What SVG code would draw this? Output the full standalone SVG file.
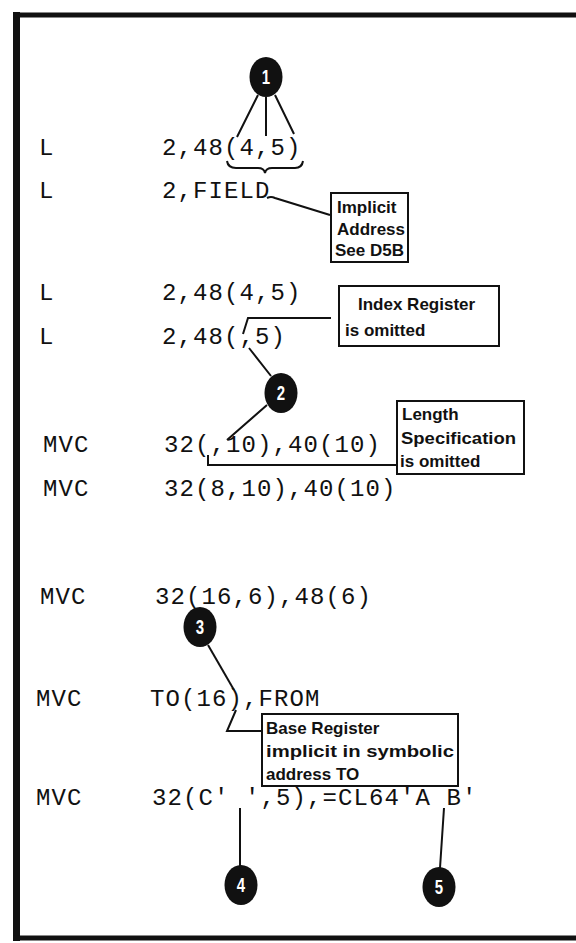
<svg xmlns="http://www.w3.org/2000/svg" width="576" height="943" viewBox="0 0 576 943">
<style>
.code{font-family:"Liberation Mono","Courier New",monospace;font-size:24px;letter-spacing:1.1px;fill:#111}
.note{font-family:"Liberation Sans",Arial,sans-serif;font-size:17px;font-weight:bold;fill:#111}
.box{fill:#fff;stroke:#111;stroke-width:2}
.conn{fill:none;stroke:#111;stroke-width:2}
.dot{fill:#111}
.num{font-family:"Liberation Sans",Arial,sans-serif;font-size:20px;font-weight:bold;fill:#fff;text-anchor:middle}
</style>
<rect width="576" height="943" fill="#fff"/>
<g id="frame" fill="none" stroke="#111">
<path d="M16.5,12 V941" stroke-width="7"/>
<path d="M13,15 H576" stroke-width="5"/>
<path d="M13,938 H576" stroke-width="5"/>
</g>
<g id="code">
<text class="code" x="39" y="155">L</text><text class="code" x="162" y="155">2,48(4,5)</text>
<text class="code" x="39" y="198">L</text><text class="code" x="162" y="198">2,FIELD</text>
<text class="code" x="39" y="300">L</text><text class="code" x="162" y="300">2,48(4,5)</text>
<text class="code" x="39" y="344">L</text><text class="code" x="162" y="344">2,48(,5)</text>
<text class="code" x="43" y="452">MVC</text><text class="code" x="164" y="452">32(,10),40(10)</text>
<text class="code" x="43" y="496">MVC</text><text class="code" x="164" y="496">32(8,10),40(10)</text>
<text class="code" x="40" y="604">MVC</text><text class="code" x="155" y="604">32(16,6),48(6)</text>
<text class="code" x="36" y="706">MVC</text><text class="code" x="150" y="706">TO(16),FROM</text>
<text class="code" x="36" y="805">MVC</text><text class="code" x="152" y="805">32(C' ',5),=CL64'A B'</text>
</g>
<g id="connectors" class="conn">
<path d="M227,161 Q228,168 236,168 L258,168 Q264,168 265,173 Q266,168 272,168 L295,168 Q302,168 303,161"/>
<path d="M258,95 L237,137 M266,97 L266,136 M275,95 L294,134"/>
<path d="M267,198 Q271,196 275,198 L330,215"/>
<path d="M243,334 L248,318 L331,318"/>
<path d="M249,348 L271,376 M267,405 L227,440"/>
<path d="M208,455 V465 H397"/>
<path d="M208,645 L234,690"/>
<path d="M236,710 L227,731 H262"/>
<path d="M240,808 V866 M444,808 L440,868"/>
</g>
<g id="c1"><ellipse class="dot" cx="266" cy="77" rx="16.5" ry="20"/><text class="num" transform="translate(266,84) scale(0.75,1)">1</text></g>
<g id="c2"><ellipse class="dot" cx="281" cy="393" rx="16.5" ry="20"/><text class="num" transform="translate(281,400) scale(0.75,1)">2</text></g>
<g id="c3"><ellipse class="dot" cx="200" cy="627" rx="16.5" ry="20"/><text class="num" transform="translate(200,634) scale(0.75,1)">3</text></g>
<g id="c4"><ellipse class="dot" cx="241" cy="885" rx="16.5" ry="20"/><text class="num" transform="translate(241,892) scale(0.75,1)">4</text></g>
<g id="c5"><ellipse class="dot" cx="439" cy="887" rx="16.5" ry="20"/><text class="num" transform="translate(439,894) scale(0.75,1)">5</text></g>
<g id="n-implicit">
<rect class="box" x="331" y="193" width="77" height="69"/>
<text class="note" x="337" y="213">Implicit</text>
<text class="note" x="337" y="235">Address</text>
<text class="note" x="335" y="256">See D5B</text>
</g>
<g id="n-index">
<rect class="box" x="339" y="286" width="160" height="60"/>
<text class="note" x="358" y="310">Index Register</text>
<text class="note" x="345" y="336">is omitted</text>
</g>
<g id="n-length">
<rect class="box" x="397" y="401" width="127" height="73"/>
<text class="note" x="402" y="420">Length</text>
<text class="note" x="401" y="444" textLength="115" lengthAdjust="spacingAndGlyphs">Specification</text>
<text class="note" x="400" y="467">is omitted</text>
</g>
<g id="n-base">
<rect class="box" x="262" y="714" width="196" height="72"/>
<text class="note" x="266" y="734">Base Register</text>
<text class="note" x="266" y="757" textLength="188" lengthAdjust="spacingAndGlyphs">implicit in symbolic</text>
<text class="note" x="266" y="780">address TO</text>
</g>
</svg>
